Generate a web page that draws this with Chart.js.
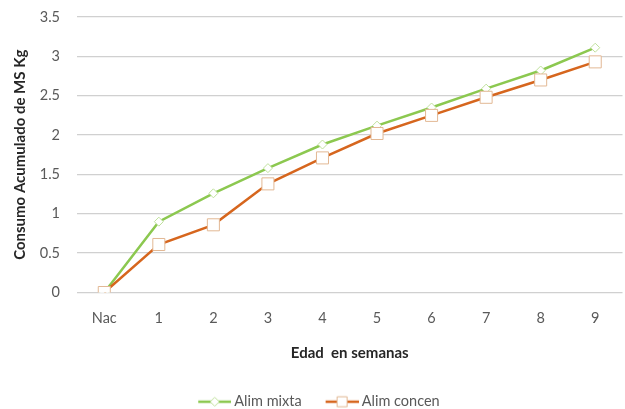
<!DOCTYPE html>
<html>
<head>
<meta charset="utf-8">
<script src="https://cdn.jsdelivr.net/npm/chart.js@4.4.1/dist/chart.umd.min.js"></script>
<style>
  html, body { margin: 0; padding: 0; background: #fff; overflow: hidden; }
  #wrap { width: 632px; height: 409px; }
</style>
</head>
<body>
<div id="wrap"><canvas id="c" width="632" height="409"></canvas></div>
<script>
// Consumo acumulado de materia seca (kg) por semana de edad
const semanas = ['Nac', '1', '2', '3', '4', '5', '6', '7', '8', '9'];
const alimMixta = [0, 0.90, 1.26, 1.58, 1.88, 2.12, 2.35, 2.59, 2.82, 3.11];
const alimConcen = [0, 0.61, 0.86, 1.38, 1.71, 2.02, 2.25, 2.48, 2.70, 2.93];
const yTicks = [0, 0.5, 1, 1.5, 2, 2.5, 3, 3.5];
const yTickLabels = ['0', '0.5', '1', '1.5', '2', '2.5', '3', '3.5'];

const GREEN = '#8cc850';
const GREEN_MARK = '#bfe09c';
const ORANGE = '#d6661e';
const ORANGE_MARK = '#e2b894';
const FONT = 'Lato, "Open Sans", sans-serif';

// Legend swatch: line segment with the series marker in the middle
function swatch(color, markColor, shape) {
  const w = 59, h = 14, lineW = 33;
  const c = document.createElement('canvas');
  c.width = w; c.height = h;
  const g = c.getContext('2d');
  const x0 = w - lineW, cx = x0 + lineW / 2, cy = h / 2;
  g.strokeStyle = color; g.lineWidth = 2.5;
  g.beginPath(); g.moveTo(x0, cy); g.lineTo(w, cy); g.stroke();
  g.fillStyle = '#fff'; g.strokeStyle = markColor; g.lineWidth = 1;
  g.beginPath();
  if (shape === 'rect') {
    g.rect(cx - 5, cy - 5, 10, 10);
  } else {
    g.moveTo(cx, cy - 4.5); g.lineTo(cx + 4.5, cy); g.lineTo(cx, cy + 4.5); g.lineTo(cx - 4.5, cy); g.closePath();
  }
  g.fill(); g.stroke();
  return c;
}

new Chart(document.getElementById('c'), {
  type: 'line',
  data: {
    labels: semanas,
    datasets: [
      {
        label: 'Alim mixta',
        data: alimMixta,
        borderColor: GREEN,
        borderWidth: 2.5,
        pointStyle: 'rectRot',
        pointRadius: 4.5,
        pointBackgroundColor: '#fff',
        pointBorderColor: GREEN_MARK,
        pointBorderWidth: 1,
        tension: 0,
        order: 1,
        legendIcon: swatch(GREEN, GREEN_MARK, 'rectRot')
      },
      {
        label: 'Alim concen',
        data: alimConcen,
        borderColor: ORANGE,
        borderWidth: 2.5,
        pointStyle: 'rect',
        pointRadius: 8.5,
        pointBackgroundColor: '#fff',
        pointBorderColor: ORANGE_MARK,
        pointBorderWidth: 1,
        tension: 0,
        order: 0,
        legendIcon: swatch(ORANGE, ORANGE_MARK, 'rect')
      }
    ]
  },
  options: {
    responsive: false,
    animation: false,
    layout: { padding: { top: 17, right: 2, bottom: -10, left: -14 } },
    plugins: {
      tooltip: { enabled: false },
      legend: {
        position: 'bottom',
        labels: {
          usePointStyle: true,
          pointStyleWidth: 50.75,
          padding: 2,
          color: '#595959',
          font: { family: FONT, size: 14.5 },
          sort: (a, b) => a.datasetIndex - b.datasetIndex,
          generateLabels(chart) {
            return chart.data.datasets.map((ds, i) => ({
              text: ds.label,
              pointStyle: ds.legendIcon,
              fillStyle: '#fff',
              strokeStyle: ds.borderColor,
              lineWidth: 0,
              fontColor: '#595959',
              datasetIndex: i,
              hidden: false
            }));
          }
        }
      }
    },
    scales: {
      x: {
        offset: true,
        grid: { display: false, drawTicks: false },
        border: { display: false },
        ticks: { color: '#595959', padding: 17, font: { family: FONT, size: 14.5 } },
        title: {
          display: true,
          text: 'Edad  en semanas',
          color: '#262626',
          font: { family: FONT, size: 15, weight: 'bold' },
          padding: { top: 0, bottom: 30 }
        },
        afterFit(scale) { scale.height = 100; }
      },
      y: {
        min: 0,
        max: 3.5,
        grid: { color: '#d0d0d0', lineWidth: 1.3, drawTicks: true, tickLength: 17, tickColor: 'rgba(0,0,0,0)' },
        border: { display: false },
        afterBuildTicks(scale) { scale.ticks = yTicks.map(v => ({ value: v })); },
        ticks: {
          color: '#595959',
          padding: 0,
          font: { family: FONT, size: 14.5 },
          callback: (value, index) => yTickLabels[index]
        },
        title: {
          display: true,
          text: 'Consumo Acumulado de MS Kg',
          color: '#262626',
          font: { family: FONT, size: 15, weight: 'bold' },
          padding: { top: 25, bottom: 0 }
        },
        afterFit(scale) { scale.width = 91; }
      }
    }
  }
});
</script>
</body>
</html>
